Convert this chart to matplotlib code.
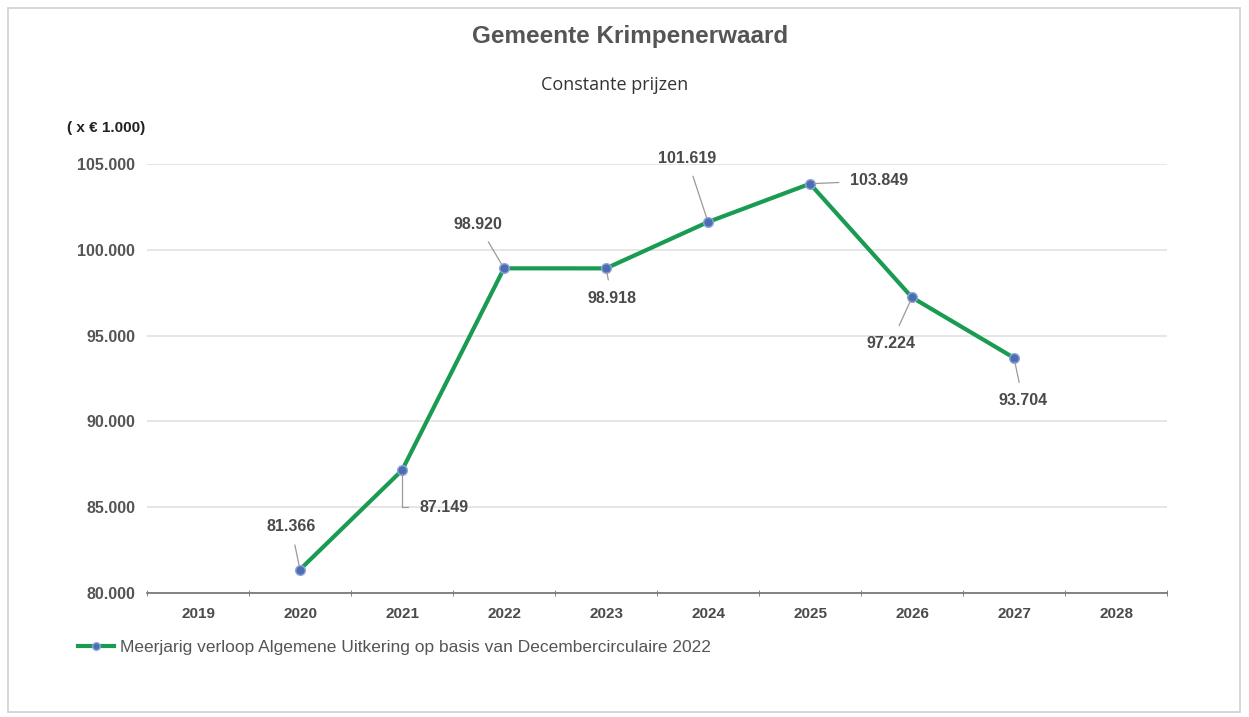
import matplotlib
matplotlib.use("Agg")
import matplotlib.pyplot as plt
from matplotlib.patches import Rectangle
from matplotlib.ticker import FixedLocator, FuncFormatter

years = ["2019", "2020", "2021", "2022", "2023", "2024", "2025", "2026", "2027", "2028"]
data_years = ["2020", "2021", "2022", "2023", "2024", "2025", "2026", "2027"]
values = [81366, 87149, 98920, 98918, 101619, 103849, 97224, 93704]
labels = ["81.366", "87.149", "98.920", "98.918", "101.619", "103.849", "97.224", "93.704"]
# label offsets (pixels) from each point
offsets = [(-9, 43), (42, -37), (-26, 44), (6, -30), (-21, 64), (69, 3), (-21, -46), (9, -43)]
yticks = [80000, 85000, 90000, 95000, 100000, 105000]

GREEN = "#1a9b52"
BLUE = "#4d6db3"
TXT = "#4a4a4a"
FONT = "Liberation Sans"

plt.rcParams["font.family"] = [FONT, "DejaVu Sans"]

fig = plt.figure(figsize=(12.49, 7.17), dpi=100)
fig.patches.append(Rectangle((8 / 1249, 5 / 717), 1232 / 1249, 704 / 717,
                             transform=fig.transFigure, fill=False,
                             edgecolor="#d0d0d0", lw=1.2))
ax = fig.add_axes([147 / 1249, 1 - 593 / 717, 1020 / 1249, 429 / 717])

xpos = [years.index(y) for y in data_years]
ax.plot(xpos, values, color=GREEN, lw=3, zorder=3, solid_joinstyle="round")
ax.plot(xpos, values, ls="none", marker="o", ms=7, mfc=BLUE,
        mec="#8fa6d8", mew=1, zorder=4)

for x, v, lab, (dx, dy) in zip(xpos, values, labels, offsets):
    conn = "angle,angleA=0,angleB=90,rad=0" if lab == "87.149" else "arc3"
    ax.annotate(lab, xy=(x, v), xytext=(dx, dy), textcoords="offset pixels",
                ha="center", va="center", fontsize=11.5, fontweight="bold",
                color=TXT, zorder=5,
                arrowprops=dict(arrowstyle="-", color="#9a9a9a", lw=0.9,
                                shrinkA=6, shrinkB=3, connectionstyle=conn))

ax.set_xlim(-0.5, 9.5)
ax.set_ylim(80000, 105000)
ax.set_xticks(range(len(years)))
ax.set_xticklabels(years)
ax.xaxis.set_minor_locator(FixedLocator([i - 0.5 for i in range(len(years) + 1)]))
ax.tick_params(axis="x", which="major", length=0, pad=10, labelsize=11,
               labelcolor=TXT)
ax.tick_params(axis="x", which="minor", length=4, direction="inout",
               color="#707070")
ax.set_yticks(yticks)
ax.yaxis.set_major_formatter(FuncFormatter(lambda v, p: f"{int(v):,}".replace(",", ".")))
ax.tick_params(axis="y", length=0, pad=8.5, labelsize=11.5, labelcolor="#555555")
for t in ax.get_xticklabels() + ax.get_yticklabels():
    t.set_fontweight("bold")
ax.grid(axis="y", color="#e2e2e2", lw=1.2)
ax.set_axisbelow(True)
for s in ("top", "right", "left"):
    ax.spines[s].set_visible(False)
ax.spines["bottom"].set_color("#707070")
ax.spines["bottom"].set_linewidth(1.2)

fig.text(630 / 1249, 1 - 37 / 717, "Gemeente Krimpenerwaard", ha="center",
         va="center", fontsize=17.5, fontweight="bold", color="#555555")
fig.text(615 / 1249, 1 - 85 / 717, "Constante prijzen", ha="center",
         va="center", fontsize=13, color="#333333", family="Open Sans")
fig.text(67 / 1249, 1 - 128 / 717, "( x € 1.000)", ha="left", va="center",
         fontsize=11, fontweight="bold", color="#222222")

ax.legend([plt.Line2D([], [], color=GREEN, lw=3, marker="o", ms=5.5, mfc=BLUE,
                      mec="#8fa6d8")],
          ["Meerjarig verloop Algemene Uitkering op basis van Decembercirculaire 2022"],
          loc="center left", bbox_to_anchor=(78 / 1249, 1 - 647 / 717),
          bbox_transform=fig.transFigure, frameon=False, fontsize=12.5,
          borderpad=0, borderaxespad=0,
          handlelength=2.1, handletextpad=0.3, labelcolor="#555555")

fig.savefig("out.png", dpi=100)
